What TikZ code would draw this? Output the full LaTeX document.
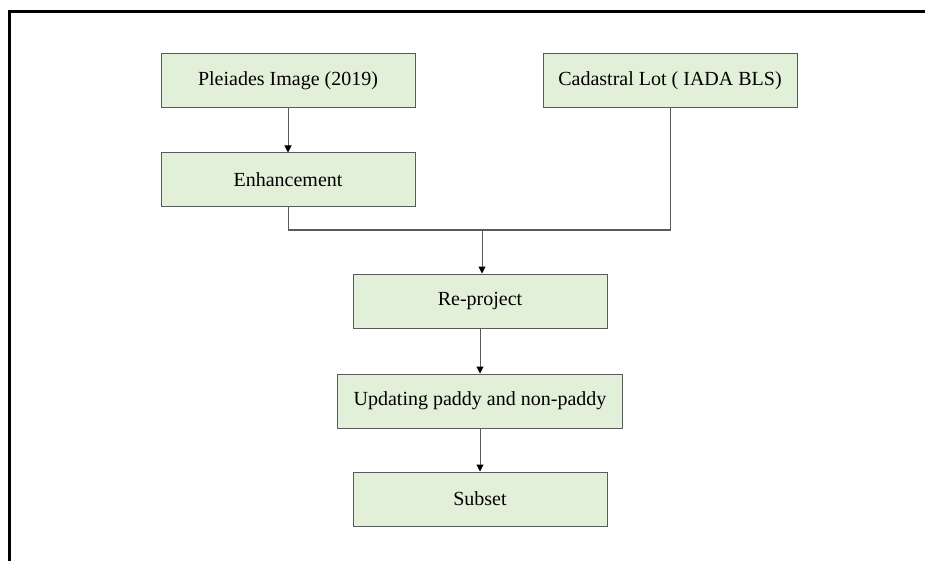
\documentclass[tikz,border=0pt]{standalone}
\usepackage{fontspec}
\setmainfont{Liberation Serif}
\usetikzlibrary{arrows.meta}
\definecolor{boxfill}{HTML}{E2EFD9}
\definecolor{boxline}{HTML}{5A5A5A}

\begin{document}
\begin{tikzpicture}[
  x=1pt, y=-1pt,
  stage/.style={draw=boxline, line width=1pt, fill=boxfill, minimum width=#1,
    minimum height=54pt, inner sep=0pt, font=\fontsize{20}{22}\selectfont},
  stage/.default=254pt,
  link/.style={draw=boxline, line width=1pt},
  >={Triangle[width=7pt,length=7pt,color=black]}
]
\useasboundingbox (0,0) rectangle (925,561);
\draw[line width=3pt] (9,561) -- (9,12) -- (925,12);

\node[stage] (img) at (288,81) {Pleiades Image (2019)};
\node[stage] (cad) at (670,81) {Cadastral Lot ( IADA BLS)};
\node[stage] (enh) at (288,180) {Enhancement};
\node[stage] (reproj) at (480,301) {Re-project};
\node[stage=285pt] (upd) at (480,401) {Updating paddy and non-paddy};
\node[stage] (subset) at (480,499) {Subset};

\coordinate (join) at (482,230);
\draw[link, ->] (img) -- (enh);
\draw[link] (enh.south) |- (join) -| (cad.south);
\draw[link, ->] (join) -- (join |- reproj.north);
\draw[link, ->] (reproj) -- (upd);
\draw[link, ->] (upd) -- (subset);

\end{tikzpicture}
\end{document}
